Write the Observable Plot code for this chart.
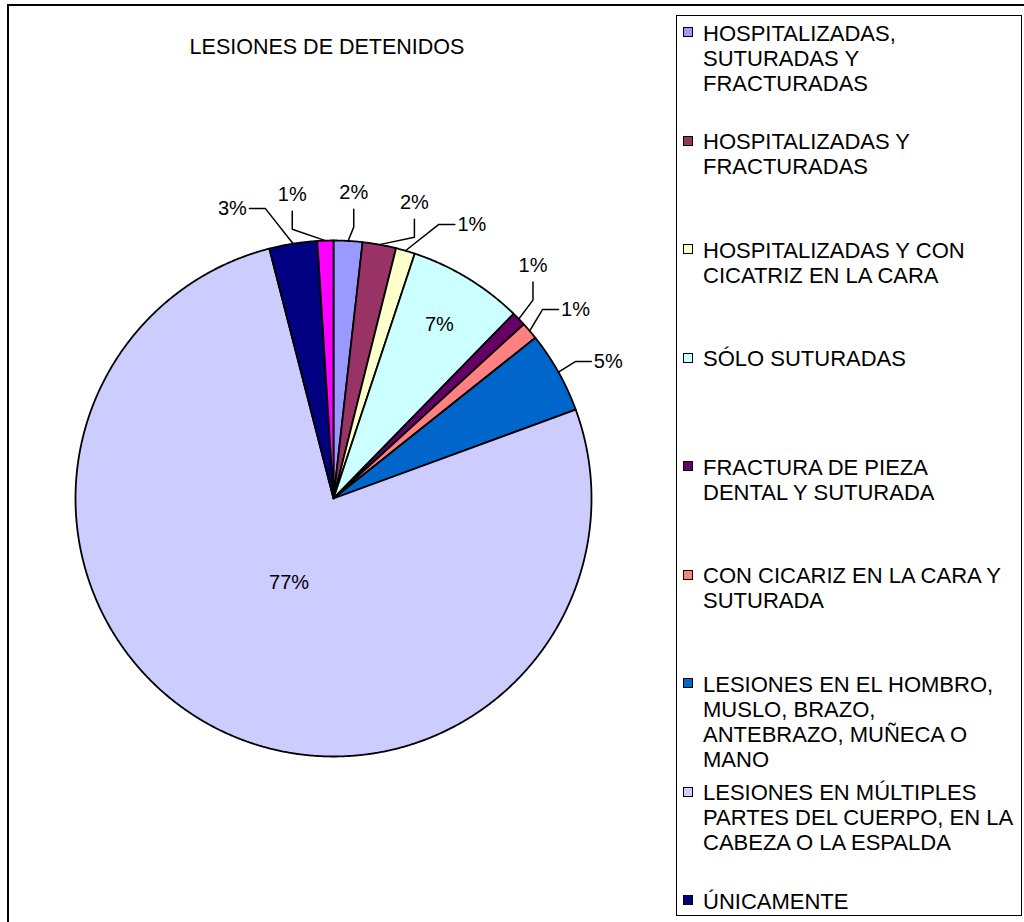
<!DOCTYPE html>
<html><head><meta charset="utf-8">
<script src="https://cdn.jsdelivr.net/npm/d3@7"></script>
<script src="https://cdn.jsdelivr.net/npm/@observablehq/plot@0.6"></script>
<style>
html,body{margin:0;padding:0;background:#fff;overflow:hidden;}
#wrap{position:relative;width:1024px;height:922px;font-family:"Liberation Sans",Arial,sans-serif;color:#000;}
#frame{position:absolute;left:7px;top:4px;width:1100px;height:1100px;border:2px solid #000;}
#chart{position:absolute;left:0;top:0;}
#title{position:absolute;left:0;width:654px;top:35px;text-align:center;font-size:21.5px;line-height:25px;}
#legend{position:absolute;left:676px;top:15px;width:346px;height:901px;border:1px solid #000;box-sizing:border-box;padding-top:4.5px;background:#fff;}
.item{height:108.5px;position:relative;}
.sw{position:absolute;left:6px;top:6.5px;width:8px;height:8px;border:1.5px solid #000;}
.lab{position:absolute;left:26px;top:0;font-size:22px;line-height:25px;white-space:pre;}
</style>
</head><body>
<div id="wrap">
  <div id="frame"></div>
  <div id="chart"></div>
  <div id="title"></div>
  <div id="legend"></div>
</div>
<script>
const title = "LESIONES DE DETENIDOS";
const categories = [
  "HOSPITALIZADAS,\nSUTURADAS Y\nFRACTURADAS",
  "HOSPITALIZADAS Y\nFRACTURADAS",
  "HOSPITALIZADAS Y CON\nCICATRIZ EN LA CARA",
  "SÓLO SUTURADAS",
  "FRACTURA DE PIEZA\nDENTAL Y SUTURADA",
  "CON CICARIZ EN LA CARA Y\nSUTURADA",
  "LESIONES EN EL HOMBRO,\nMUSLO, BRAZO,\nANTEBRAZO, MUÑECA O\nMANO",
  "LESIONES EN MÚLTIPLES\nPARTES DEL CUERPO, EN LA\nCABEZA O LA ESPALDA",
  "ÚNICAMENTE",
  "OTRAS"
];
const values = [1.8, 2.1, 1.2, 7.2, 0.9, 1.1, 5.1, 76.6, 3.0, 1.0];
const palette = ["#9999FF","#993366","#FFFFCC","#CCFFFF","#660066","#FF8080","#0066CC","#CCCCFF","#000080","#FF00FF"];
const legendCount = 9; // entries visible in the legend box

const total = d3.sum(values);
const fmt = d3.format(".0%");
const pie = d3.pie().sort(null).value(d => d)(values);

// slice polygons
const slicePts = [];
pie.forEach((p, i) => {
  const key = categories[i];
  slicePts.push({key, x: 0, y: 0});
  const n = Math.max(2, Math.ceil((p.endAngle - p.startAngle) / (Math.PI / 720)));
  for (let k = 0; k <= n; k++) {
    const a = p.startAngle + (p.endAngle - p.startAngle) * k / n;
    slicePts.push({key, x: Math.sin(a), y: Math.cos(a)});
  }
});

// labels
const PX = 1 / 258; // one pixel in data units (radius = 258px)
const labels = [];
const outside = [];
pie.forEach((p, i) => {
  const share = values[i] / total;
  let mid = (p.startAngle + p.endAngle) / 2;
  if (mid > Math.PI) mid -= 2 * Math.PI;
  if (share >= 0.06) {
    const rr = share > 0.5 ? 0.37 : 0.79;
    labels.push({i, x: rr * Math.sin(mid), y: rr * Math.cos(mid), text: fmt(share)});
  } else {
    outside.push({i, mid, a: mid, text: fmt(share)});
  }
});
outside.sort((a, b) => a.a - b.a);
const S = 11.5 * Math.PI / 180;
for (let k = 0; k < 400; k++) {
  for (let j = 0; j < outside.length - 1; j++) {
    const d = outside[j + 1].a - outside[j].a;
    if (d < S) { const s = (S - d) / 2; outside[j].a -= s; outside[j + 1].a += s; }
  }
}
const R = 1.19;
const leaders = [];
outside.forEach(o => {
  const lx = R * Math.sin(o.a), ly = R * Math.cos(o.a);
  labels.push({i: o.i, x: lx, y: ly, text: o.text});
  const px = Math.sin(o.mid), py = Math.cos(o.mid);
  const dx = lx - px, dy = ly - py;
  let ax, ay, ex, ey;
  if (Math.abs(dy) > Math.abs(dx)) {
    const s = dy > 0 ? -1 : 1;
    ax = lx; ay = ly + s * 17 * PX; ex = lx; ey = ly + s * 35 * PX;
  } else {
    const s = dx < 0 ? 1 : -1;
    ax = lx + s * 17 * PX; ay = ly; ex = lx + s * 33 * PX; ey = ly;
  }
  const key = categories[o.i];
  leaders.push({key, x: px, y: py}, {key, x: ex, y: ey}, {key, x: ax, y: ay});
});

const chart = Plot.plot({
  width: 1024, height: 922,
  marginLeft: 75, marginRight: 433, marginTop: 240, marginBottom: 166,
  x: {domain: [-1, 1], axis: null},
  y: {domain: [-1, 1], axis: null},
  color: {domain: categories, range: palette},
  style: {background: "transparent", fontFamily: "'Liberation Sans', Arial, sans-serif"},
  marks: [
    Plot.line(slicePts, {x: "x", y: "y", z: "key", fill: "key", stroke: "#000", strokeWidth: 1.8, strokeLinejoin: "round", curve: "linear-closed"}),
    Plot.line(leaders, {x: "x", y: "y", z: "key", stroke: "#000", strokeWidth: 1.5}),
    Plot.text(labels, {x: "x", y: "y", text: "text", fontSize: 20, fill: "#000"})
  ]
});
document.getElementById("chart").appendChild(chart);
document.getElementById("title").textContent = title;

const legend = document.getElementById("legend");
categories.slice(0, legendCount).forEach((c, i) => {
  const it = document.createElement("div"); it.className = "item";
  const sw = document.createElement("div"); sw.className = "sw"; sw.style.background = palette[i];
  const lb = document.createElement("div"); lb.className = "lab"; lb.textContent = c;
  it.appendChild(sw); it.appendChild(lb); legend.appendChild(it);
});
</script>
</body></html>
